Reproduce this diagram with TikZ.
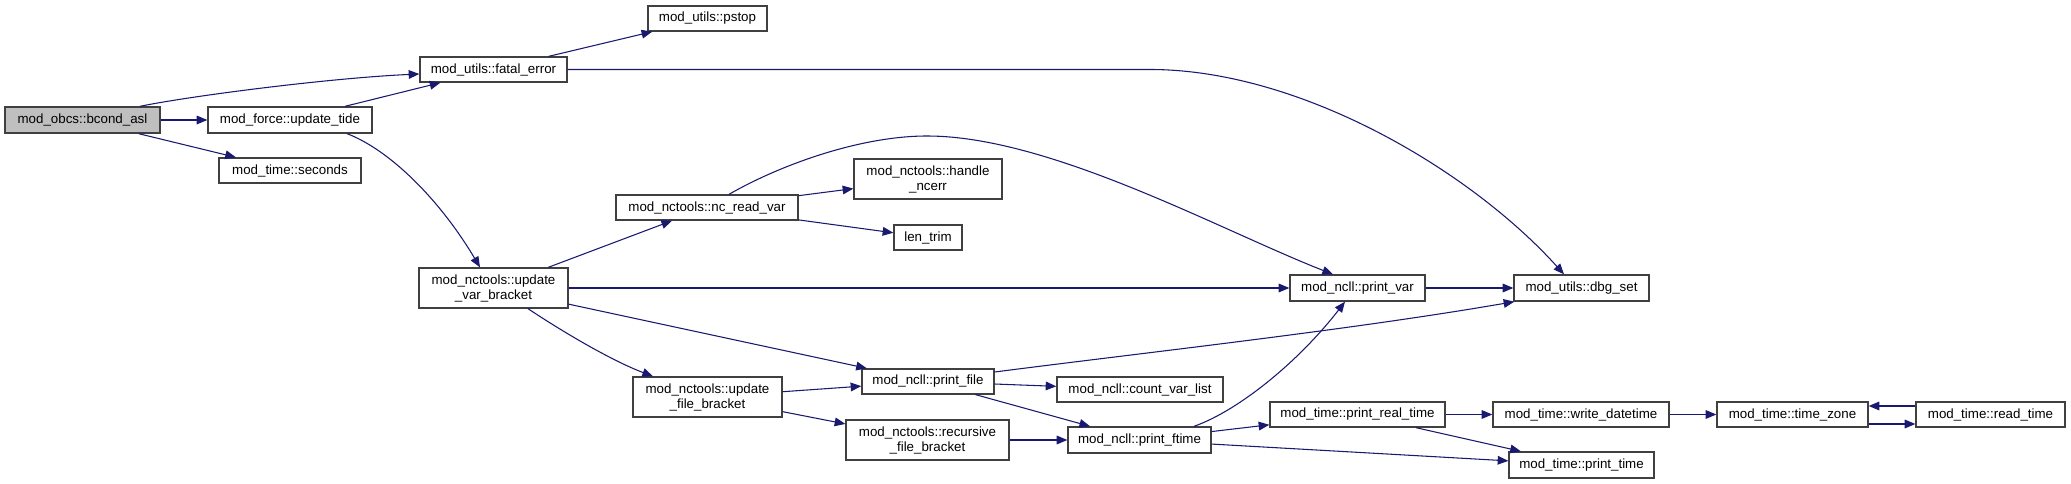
\documentclass[tikz,border=0pt]{standalone}
\usepackage{fontspec}
\setmainfont{Liberation Sans}
\usetikzlibrary{arrows.meta,calc}
\definecolor{edgec}{HTML}{191970}
\definecolor{nodeb}{HTML}{404040}
\definecolor{rootc}{HTML}{BFBFBF}
\begin{document}
\begin{tikzpicture}[x=0.75pt, y=-0.75pt,
  font=\fontsize{10}{11.25}\selectfont,
  box/.style={draw=nodeb, line width=1pt, inner sep=0pt, align=center, fill=white},
  bw/.style={minimum width=#1*0.75pt},
  bh/.style={minimum height=#1*0.75pt},
  link/.style={draw=edgec, line width=0.8pt, -{Triangle[length=8pt,width=6.5pt]}}]
\useasboundingbox (0,0) rectangle (2071,484);
% nodes
\node[box, fill=rootc, bw=155, bh=26] (bcond) at (82.5,120) {mod\_obcs::bcond\_asl};
\node[box, bw=164, bh=26] (tide) at (290,120) {mod\_force::update\_tide};
\node[box, bw=142, bh=25] (seconds) at (290,170.5) {mod\_time::seconds};
\node[box, bw=147, bh=25] (fatal) at (493.5,69.5) {mod\_utils::fatal\_error};
\node[box, bw=119, bh=25] (pstop) at (707.5,18.5) {mod\_utils::pstop};
\node[box, bw=182, bh=25] (ncread) at (707,207.5) {mod\_nctools::nc\_read\_var};
\node[box, bw=148, bh=40] (ncerr) at (928,179) {mod\_nctools::handle\\\_ncerr};
\node[box, bw=68, bh=25] (lentrim) at (928,237.5) {len\_trim};
\node[box, bw=149, bh=40] (uvb) at (493.5,288) {mod\_nctools::update\\\_var\_bracket};
\node[box, bw=135, bh=26] (printvar) at (1357.5,288) {mod\_ncll::print\_var};
\node[box, bw=135, bh=26] (dbgset) at (1581.5,288) {mod\_utils::dbg\_set};
\node[box, bw=149, bh=40] (ufb) at (707.5,397) {mod\_nctools::update\\\_file\_bracket};
\node[box, bw=132, bh=25] (printfile) at (928,381.5) {mod\_ncll::print\_file};
\node[box, bw=163, bh=40] (recursive) at (927.5,440) {mod\_nctools::recursive\\\_file\_bracket};
\node[box, bw=166, bh=25] (countvar) at (1140,389.5) {mod\_ncll::count\_var\_list};
\node[box, bw=143, bh=26] (printftime) at (1139.5,440) {mod\_ncll::print\_ftime};
\node[box, bw=175, bh=25] (printreal) at (1357.5,414.5) {mod\_time::print\_real\_time};
\node[box, bw=176, bh=25] (writedt) at (1581,414.5) {mod\_time::write\_datetime};
\node[box, bw=145, bh=26] (printtime) at (1581.5,465) {mod\_time::print\_time};
\node[box, bw=151, bh=25] (timezone) at (1792.5,414.5) {mod\_time::time\_zone};
\node[box, bw=149, bh=25] (readtime) at (1990.5,414.5) {mod\_time::read\_time};
% edges
\draw[link] (bcond.north -| 140,0) .. controls (190,96) and (330,78) .. (fatal.west |- 0,74);
\draw[link] (bcond) -- (tide);
\draw[link] (bcond) -- (seconds);
\draw[link] (tide) -- (fatal);
\draw[link] (tide.south -| 347,0) .. controls (390,150) and (440,200) .. (uvb.north -| 480,0);
\draw[link] (fatal) -- (pstop);
\draw[link] (fatal.east) -- (1150,69.5) .. controls (1300,69.5) and (1470,170) .. (dbgset.north -| 1564,0);
\draw[link] (uvb) -- (ncread);
\draw[link] (uvb) -- (printvar);
\draw[link] (uvb) -- (printfile);
\draw[link] (uvb.south -| 528,0) .. controls (560,330) and (610,360) .. (ufb.north -| 653,0);
\draw[link] (ncread) -- (ncerr);
\draw[link] (ncread) -- (lentrim);
\draw[link] (ncread.north -| 729,0) .. controls (780,165) and (860,136) .. (927,136) .. controls (1050,136) and (1220,230) .. (printvar.north -| 1333,0);
\draw[link] (printvar) -- (dbgset);
\draw[link] (ufb) -- (printfile);
\draw[link] (ufb) -- (recursive);
\draw[link] (recursive) -- (printftime);
\draw[link] (printfile.east |- 0,372) .. controls (1150,352) and (1350,330) .. ([xshift=0.75pt]dbgset.south west);
\draw[link] (printfile) -- (countvar);
\draw[link] (printfile) -- (printftime);
\draw[link] (printftime.north -| 1194,0) .. controls (1240,410) and (1300,360) .. (printvar.south -| 1345,0);
\draw[link] (printftime) -- (printreal);
\draw[link] (printftime) -- (printtime);
\draw[link] (printreal) -- (writedt);
\draw[link] (printreal) -- (printtime);
\draw[link] (writedt) -- (timezone);
\draw[link] (readtime.west |- 0,406) -- (timezone.east |- 0,406);
\draw[link] (timezone.east |- 0,424) -- (readtime.west |- 0,424);
\end{tikzpicture}
\end{document}
